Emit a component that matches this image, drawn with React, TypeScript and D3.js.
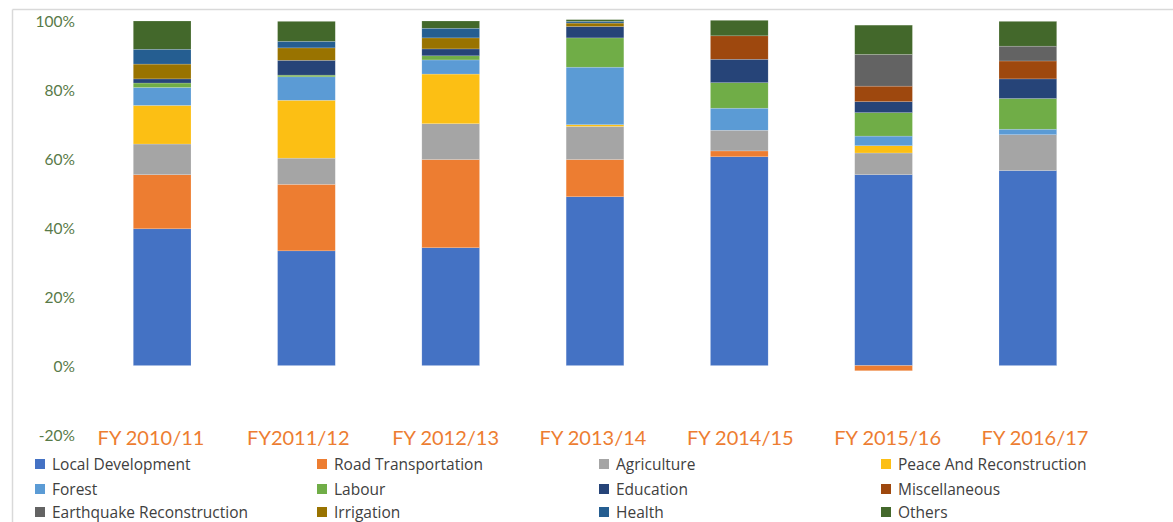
import React from "react";
import * as d3 from "d3";

const categories = ["FY 2010/11", "FY2011/12", "FY 2012/13", "FY 2013/14", "FY 2014/15", "FY 2015/16", "FY 2016/17"];

const seriesNames = [
  "Local Development", "Road Transportation", "Agriculture", "Peace And Reconstruction",
  "Forest", "Labour", "Education", "Miscellaneous",
  "Earthquake Reconstruction", "Irrigation", "Health", "Others",
];

const seriesColors = [
  "#4472C4", "#ED7D31", "#A5A5A5", "#FCBF14",
  "#5B9BD5", "#70AD47", "#264478", "#9E480E",
  "#636363", "#997300", "#255E91", "#43682B",
];

const localDevelopment = [39.7, 33.3, 34.2, 49.0, 60.6, 55.4, 56.6];
const roadTransportation = [15.7, 19.3, 25.6, 10.8, 1.7, -1.5, 0];
const agriculture = [8.9, 7.6, 10.4, 9.6, 6.0, 6.3, 10.4];
const peaceAndReconstruction = [11.2, 16.8, 14.4, 0.5, 0, 2.1, 0];
const forest = [5.2, 6.8, 4.1, 16.7, 6.4, 2.8, 1.6];
const labour = [1.3, 0.5, 1.2, 8.5, 7.4, 6.8, 8.9];
const education = [1.2, 4.3, 2.0, 3.3, 6.8, 3.2, 5.7];
const miscellaneous = [0, 0, 0, 0, 6.8, 4.5, 5.2];
const earthquakeReconstruction = [0, 0, 0, 0, 0, 9.2, 4.3];
const irrigation = [4.3, 3.6, 3.2, 1.0, 0, 0, 0];
const health = [4.3, 1.9, 2.8, 0.5, 0, 0, 0];
const others = [8.2, 5.8, 2.1, 0.5, 4.5, 8.5, 7.2];

const yTicks = [-20, 0, 20, 40, 60, 80, 100];

const seriesValues = [
  localDevelopment, roadTransportation, agriculture, peaceAndReconstruction,
  forest, labour, education, miscellaneous,
  earthquakeReconstruction, irrigation, health, others,
];

const W = 1173;
const H = 522;

export default function App() {
  const rows = categories.map((c, i) => {
    const r: Record<string, any> = { category: c };
    seriesNames.forEach((s, j) => (r[s] = seriesValues[j][i]));
    return r;
  });

  const stacked = d3
    .stack<Record<string, any>>()
    .keys(seriesNames)
    .offset(d3.stackOffsetDiverging)(rows);

  const x = d3.scaleBand<string>().domain(categories).range([90, 1100]).paddingInner(0.6).paddingOuter(0.3);
  const xLabel = d3.scalePoint<string>().domain(categories).range([151, 1035]);
  const y = d3.scaleLinear().domain([-20, 100]).range([434.5, 21]);

  const tickFont = "Lato, 'DejaVu Sans', sans-serif";

  return (
    <svg width={W} height={H} style={{ position: "absolute", left: 0, top: 0, background: "#fff" }}>
      <line x1={12.5} x2={W} y1={9.5} y2={9.5} stroke="#d9d9d9" strokeWidth={1.5} />
      <line x1={12.5} x2={12.5} y1={9.5} y2={H} stroke="#d9d9d9" strokeWidth={1.5} />

      {yTicks.map((t) => (
        <text
          key={t}
          x={75}
          y={y(t)}
          textAnchor="end"
          dominantBaseline="central"
          fontFamily={tickFont}
          fontSize={15.5}
          fill="#587a48"
        >
          {t + "%"}
        </text>
      ))}

      {stacked.map((layer, li) => (
        <g key={layer.key} fill={seriesColors[li]}>
          {layer.map((d, i) => {
            const y0 = y(d[0]);
            const y1 = y(d[1]);
            const h = Math.abs(y0 - y1);
            if (h <= 0) return null;
            return (
              <rect
                key={i}
                x={x(categories[i])}
                y={Math.min(y0, y1)}
                width={x.bandwidth()}
                height={h}
                stroke="#ffffff"
                strokeOpacity={0.35}
                strokeWidth={0.5}
              />
            );
          })}
        </g>
      ))}

      {categories.map((c) => (
        <text
          key={c}
          x={xLabel(c)}
          y={437}
          textAnchor="middle"
          dominantBaseline="central"
          fontFamily={tickFont}
          fontSize={20}
          fill="#ED7D31"
        >
          {c}
        </text>
      ))}

      {seriesNames.map((s, i) => {
        const col = i % 4;
        const row = Math.floor(i / 4);
        const lx = 35 + col * 282;
        const ly = [464, 489, 512][row];
        return (
          <g key={s}>
            <rect x={lx} y={ly - 5} width={10} height={10} fill={seriesColors[i]} />
            <text
              x={lx + 17}
              y={ly}
              dominantBaseline="central"
              fontFamily="'Open Sans', sans-serif"
              fontSize={15.5}
              fill="#404040"
            >
              {s}
            </text>
          </g>
        );
      })}
    </svg>
  );
}
